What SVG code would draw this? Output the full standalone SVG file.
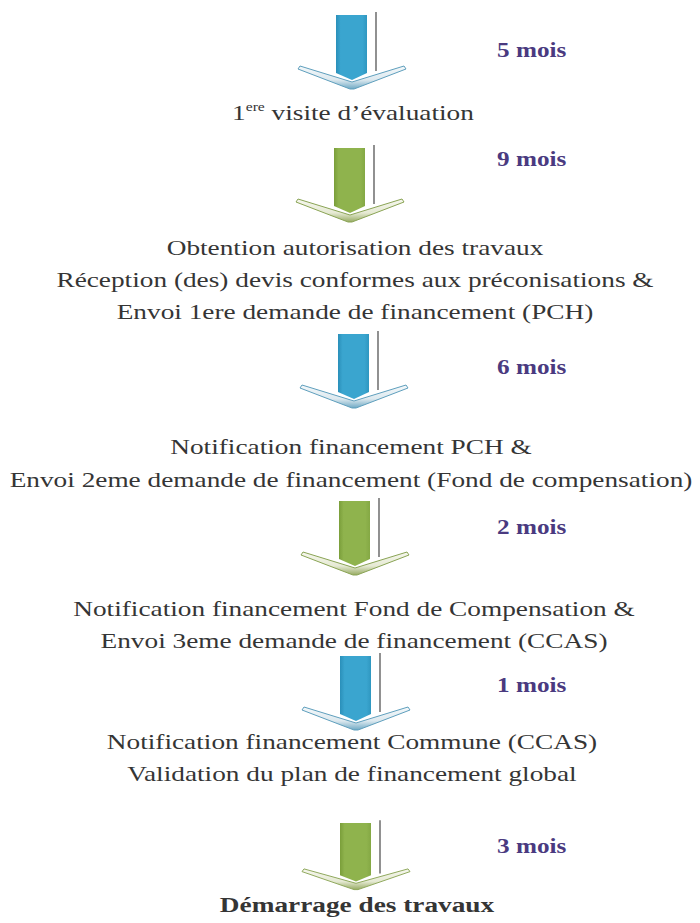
<svg xmlns="http://www.w3.org/2000/svg" width="700" height="923" viewBox="0 0 700 923">
  <defs>
    <linearGradient id="shaftBlue" x1="0" y1="0" x2="1" y2="0">
      <stop offset="0" stop-color="#2a8fb9"/>
      <stop offset="0.15" stop-color="#3aa5cf"/>
      <stop offset="0.85" stop-color="#3aa5cf"/>
      <stop offset="1" stop-color="#2f97c0"/>
    </linearGradient>
    <linearGradient id="shaftGreen" x1="0" y1="0" x2="1" y2="0">
      <stop offset="0" stop-color="#7a9e3a"/>
      <stop offset="0.15" stop-color="#8fb34d"/>
      <stop offset="0.85" stop-color="#8fb34d"/>
      <stop offset="1" stop-color="#84a844"/>
    </linearGradient>
    <linearGradient id="chevBlue" x1="0" y1="0" x2="0" y2="1">
      <stop offset="0" stop-color="#f4f8fa"/>
      <stop offset="0.6" stop-color="#dde9ef"/>
      <stop offset="1" stop-color="#6fa9c4"/>
    </linearGradient>
    <linearGradient id="chevGreen" x1="0" y1="0" x2="0" y2="1">
      <stop offset="0" stop-color="#f6f7ee"/>
      <stop offset="0.6" stop-color="#e6ead4"/>
      <stop offset="1" stop-color="#97ab63"/>
    </linearGradient>
    <g id="arrowBlue">
      <polygon points="-52,51 0,67 52,51 54,54 2,74 -2,74 -54,54" fill="url(#chevBlue)" stroke="#5f9fbd" stroke-width="1"/>
      <polygon points="-16,0 15,0 15,58 0,65 -16,58" fill="url(#shaftBlue)"/>
      <line x1="24" y1="-3" x2="24" y2="56" stroke="#555" stroke-width="1.3"/>
    </g>
    <g id="arrowGreen">
      <polygon points="-52,51 0,67 52,51 54,54 2,74 -2,74 -54,54" fill="url(#chevGreen)" stroke="#8aa455" stroke-width="1"/>
      <polygon points="-16,0 15,0 15,58 0,65 -16,58" fill="url(#shaftGreen)"/>
      <line x1="24" y1="-3" x2="24" y2="56" stroke="#555" stroke-width="1.3"/>
    </g>
  </defs>
  <style>
    .t { font-family: "Liberation Serif", "Times New Roman", serif; font-size: 21px; fill: #353535; text-anchor: middle; }
    .b { font-weight: bold; }
    .m { font-family: "Liberation Serif", "Times New Roman", serif; font-size: 21px; font-weight: bold; fill: #4a3a80; }
  </style>

  <g id="connectors">
    <g id="arrow1"><use href="#arrowBlue" transform="translate(352,15)"/></g>
    <g id="arrow2"><use href="#arrowGreen" transform="translate(350,148)"/></g>
    <g id="arrow3"><use href="#arrowBlue" transform="translate(354,334)"/></g>
    <g id="arrow4"><use href="#arrowGreen" transform="translate(355,501)"/></g>
    <g id="arrow5"><use href="#arrowBlue" transform="translate(356,656)"/></g>
    <g id="arrow6"><use href="#arrowGreen" transform="translate(356,823) scale(1,0.9)"/></g>
  </g>

  <g id="labels">
    <g transform="translate(497,57) scale(1.2,1)"><text class="m">5 mois</text></g>
    <g transform="translate(497,166) scale(1.2,1)"><text class="m">9 mois</text></g>
    <g transform="translate(497,374) scale(1.2,1)"><text class="m">6 mois</text></g>
    <g transform="translate(497,534) scale(1.2,1)"><text class="m">2 mois</text></g>
    <g transform="translate(497,692) scale(1.2,1)"><text class="m">1 mois</text></g>
    <g transform="translate(497,853) scale(1.2,1)"><text class="m">3 mois</text></g>
  </g>

  <g id="node1" transform="translate(353,120) scale(1.3,1)">
    <text class="t">1<tspan font-size="12" dy="-9">ere</tspan><tspan dy="9"> visite d’évaluation</tspan></text>
  </g>
  <g id="node2" transform="translate(355,0) scale(1.3,1)">
    <text class="t" y="255">Obtention autorisation des travaux</text>
    <text class="t" y="287">Réception (des) devis conformes aux préconisations &amp;</text>
    <text class="t" y="319">Envoi 1ere demande de financement (PCH)</text>
  </g>
  <g id="node3" transform="translate(351,0) scale(1.3,1)">
    <text class="t" y="454">Notification financement PCH &amp;</text>
    <text class="t" y="487">Envoi 2eme demande de financement (Fond de compensation)</text>
  </g>
  <g id="node4" transform="translate(354,0) scale(1.3,1)">
    <text class="t" y="616">Notification financement Fond de Compensation &amp;</text>
    <text class="t" y="648">Envoi 3eme demande de financement (CCAS)</text>
  </g>
  <g id="node5" transform="translate(352,0) scale(1.3,1)">
    <text class="t" y="749">Notification financement Commune (CCAS)</text>
    <text class="t" y="781">Validation du plan de financement global</text>
  </g>
  <g id="node6" transform="translate(357,912) scale(1.3,1)">
    <text class="t b">Démarrage des travaux</text>
  </g>
</svg>
